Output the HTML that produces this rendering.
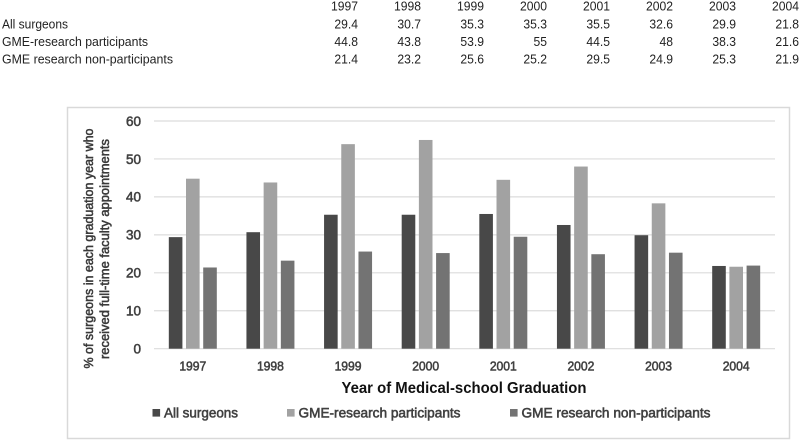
<!DOCTYPE html>
<html>
<head>
<meta charset="utf-8">
<style>
html,body{margin:0;padding:0;background:#fff;}
svg{display:block;font-family:"Liberation Sans",sans-serif;filter:blur(0.35px);}
</style>
</head>
<body>
<svg id="chart" xmlns="http://www.w3.org/2000/svg" width="800" height="441" viewBox="0 0 800 441"></svg>
<script>
const categories = ['1997','1998','1999','2000','2001','2002','2003','2004'];
const seriesNames = ['All surgeons','GME-research participants','GME research non-participants'];
const allSurgeons = [29.4,30.7,35.3,35.3,35.5,32.6,29.9,21.8];
const participants = [44.8,43.8,53.9,55,44.5,48,38.3,21.6];
const nonParticipants = [21.4,23.2,25.6,25.2,29.5,24.9,25.3,21.9];
const yTicks = [0,10,20,30,40,50,60];

const svg = document.getElementById('chart');
const NS = 'http://www.w3.org/2000/svg';
const series = [allSurgeons, participants, nonParticipants];
const colors = ['#484848','#a2a2a2','#737373'];
const plot = {left:154, right:775, top:121, bottom:348.7};
const yMax = 60;
function xBand(i){ return plot.left + (plot.right-plot.left)/categories.length*(i+0.5); }
function yPos(v){ return plot.bottom - (plot.bottom-plot.top)*v/yMax; }
function add(tag, attrs, text){
  const el = document.createElementNS(NS, tag);
  for (const k in attrs) el.setAttribute(k, attrs[k]);
  if (text !== undefined) el.textContent = text;
  svg.appendChild(el);
  return el;
}
function fit(el, w){
  el.setAttribute('textLength', w);
  el.setAttribute('lengthAdjust', 'spacingAndGlyphs');
}
function numWidth(s){
  let w = 0;
  for (const ch of s) w += ch === '.' ? 3.4 : 6.75;
  return w;
}
function semiBold(el){
  el.setAttribute('style', 'stroke:#404040;stroke-width:0.55px;');
}

/* data table above the chart */
const tableRight = [358,421,484,547,610,673,736,799];
categories.forEach((c,i)=>{
  const t = add('text',{x:tableRight[i],y:10.5,'text-anchor':'end','font-size':13,fill:'#222'},c);
  fit(t,numWidth(c));
  
  
});
const rowY = [28.5,46,63.5];
const rowW = [66,146,171];
seriesNames.forEach((n,r)=>{
  const t = add('text',{x:2,y:rowY[r],'font-size':13,fill:'#222'},n);
  fit(t,rowW[r]);
  
  
  series[r].forEach((v,i)=>{
    const label = String(v);
    const d = add('text',{x:tableRight[i],y:rowY[r],'text-anchor':'end','font-size':13,fill:'#222'},label);
    fit(d,numWidth(label));
    
    
  });
});

/* chart frame */
const frame = add('rect',{x:67.5,y:107.5,width:722,height:331,fill:'#fff',stroke:'#d9d9d9','stroke-width':1.5});



/* gridlines and y ticks */
yTicks.forEach(v=>{
  const y = yPos(v);
  const g = add('line',{x1:plot.left,x2:plot.right,y1:y,y2:y,stroke:'#dcdcdc','stroke-width':1.2});
  
  
  const t = add('text',{x:141,y:y+4.8,'text-anchor':'end','font-size':13.5,fill:'#404040'},String(v));
  semiBold(t);
  
  
});

/* bars */
const barW = 13.6, barStep = 17.2;
categories.forEach((c,i)=>{
  series.forEach((vals,s)=>{
    const cx = xBand(i) + (s-1)*barStep;
    const b = add('rect',{x:cx-barW/2,y:yPos(vals[i]),width:barW,height:plot.bottom-yPos(vals[i]),fill:colors[s]});
    
    
  });
  const t = add('text',{x:xBand(i),y:370.5,'text-anchor':'middle','font-size':13,fill:'#404040'},c);
  semiBold(t);
  fit(t,27);
  
  
});

/* axis titles */
const xTitle = add('text',{x:464,y:393,'text-anchor':'middle','font-size':15.5,'font-weight':'bold',fill:'#111'},'Year of Medical-school Graduation');
fit(xTitle,245);



const yTitle1 = add('text',{transform:'translate(93,248.5) rotate(-90)','text-anchor':'middle','font-size':13,fill:'#333'},'% of surgeons in each graduation year who');
semiBold(yTitle1);
fit(yTitle1,240);


const yTitle2 = add('text',{transform:'translate(109,249) rotate(-90)','text-anchor':'middle','font-size':13,fill:'#333'},'received full-time faculty appointments');
semiBold(yTitle2);
fit(yTitle2,220);



/* legend */
const legendSwatchX = [152.5,287,510];
const legendTextW = [74,162,189];
seriesNames.forEach((n,s)=>{
  const sw = add('rect',{x:legendSwatchX[s],y:409,width:7.6,height:7.6,fill:colors[s]});
  
  
  const t = add('text',{x:legendSwatchX[s]+11.5,y:417.5,'font-size':13.5,fill:'#404040'},n);
  semiBold(t);
  fit(t,legendTextW[s]);
  
  
});
</script>
</body>
</html>
